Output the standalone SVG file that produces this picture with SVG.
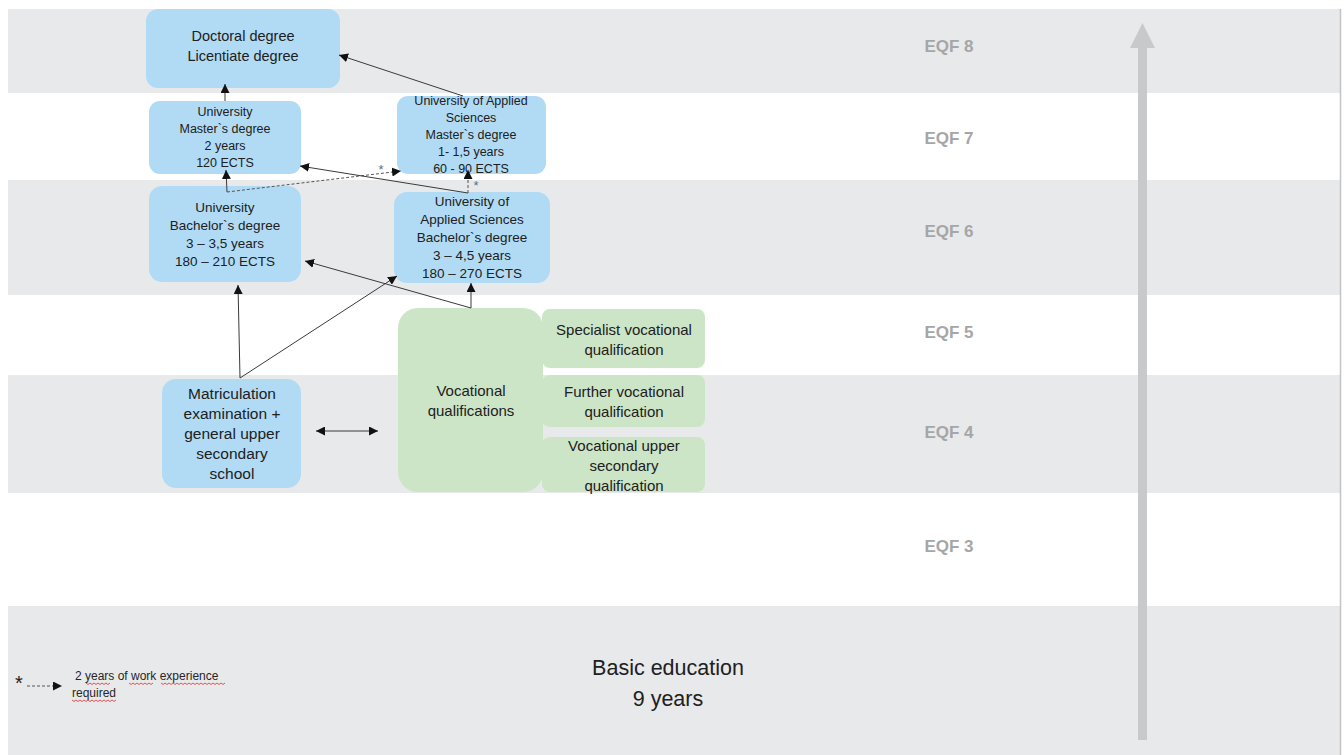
<svg xmlns="http://www.w3.org/2000/svg" width="1344" height="755" viewBox="0 0 1344 755">
<defs>
<marker id="ah" viewBox="0 0 10 10" refX="10" refY="5" markerWidth="9" markerHeight="9" markerUnits="userSpaceOnUse" orient="auto-start-reverse">
<path d="M0,0 L10,5 L0,10 z" fill="#111"/>
</marker>
<style>
.band{fill:#e8e9eb}
.blue{fill:#b1dbf5}
.green{fill:#cde5c7}
.t{font-family:"Liberation Sans",Arial,sans-serif;fill:#202020;text-anchor:middle}
.eqf{font-family:"Liberation Sans",Arial,sans-serif;fill:#a6a6a6;font-weight:bold;font-size:17px;text-anchor:middle}
.ln{stroke:#3a3a3a;stroke-width:1;fill:none}
.dl{stroke:#555;stroke-width:1;fill:none;stroke-dasharray:3 2}
.ast{font-family:"Liberation Sans",Arial,sans-serif;fill:#5a6f8a;font-size:13px;text-anchor:middle}
.sq{stroke:#e03030;stroke-width:0.8;fill:none}
</style>
</defs>
<rect width="1344" height="755" fill="#fff"/>
<g id="bands">
<rect class="band" x="8" y="9" width="1332" height="84"/>
<rect class="band" x="8" y="180" width="1332" height="115"/>
<rect class="band" x="8" y="375" width="1332" height="118"/>
<rect class="band" x="8" y="606" width="1332" height="149"/>
<line x1="1340.5" y1="9" x2="1340.5" y2="755" stroke="#c4c4c4" stroke-width="1.5"/>
</g>
<g id="eqf-labels">
<text class="eqf" x="949" y="52">EQF 8</text>
<text class="eqf" x="949" y="144">EQF 7</text>
<text class="eqf" x="949" y="237">EQF 6</text>
<text class="eqf" x="949" y="338">EQF 5</text>
<text class="eqf" x="949" y="438">EQF 4</text>
<text class="eqf" x="949" y="552">EQF 3</text>
</g>
<g id="level-arrow">
<rect x="1138" y="47" width="9" height="693" fill="#c8c9cb"/>
<polygon points="1142.5,23 1155,48 1130,48" fill="#c8c9cb"/>
</g>
<g id="basic-education">
<text class="t" x="668" y="675" font-size="21.5">Basic education</text>
<text class="t" x="668" y="706" font-size="21.5">9 years</text>
</g>
<g id="doctoral">
<rect class="blue" x="146" y="9" width="194" height="79" rx="12"/>
<text class="t" x="243" y="41" font-size="14.5">Doctoral degree</text>
<text class="t" x="243" y="61" font-size="14.5">Licentiate degree</text>
</g>
<g id="uni-master">
<rect class="blue" x="149" y="101" width="152" height="73" rx="11"/>
<text class="t" x="225" y="116" font-size="12.5">University</text>
<text class="t" x="225" y="133" font-size="12.5">Master`s degree</text>
<text class="t" x="225" y="150" font-size="12.5">2 years</text>
<text class="t" x="225" y="167" font-size="12.5">120 ECTS</text>
</g>
<g id="uas-master">
<rect class="blue" x="397" y="96" width="149" height="78" rx="11"/>
<text class="t" x="471" y="105" font-size="12.5">University of Applied</text>
<text class="t" x="471" y="122" font-size="12.5">Sciences</text>
<text class="t" x="471" y="139" font-size="12.5">Master`s degree</text>
<text class="t" x="471" y="156" font-size="12.5">1- 1,5 years</text>
<text class="t" x="471" y="173" font-size="12.5">60 - 90 ECTS</text>
</g>
<g id="uni-bachelor">
<rect class="blue" x="149" y="186" width="152" height="96" rx="13"/>
<text class="t" x="225" y="212" font-size="13.5">University</text>
<text class="t" x="225" y="230" font-size="13.5">Bachelor`s degree</text>
<text class="t" x="225" y="248" font-size="13.5">3 – 3,5 years</text>
<text class="t" x="225" y="266" font-size="13.5">180 – 210 ECTS</text>
</g>
<g id="uas-bachelor">
<rect class="blue" x="394" y="192" width="156" height="91" rx="13"/>
<text class="t" x="472" y="206" font-size="13.5">University of</text>
<text class="t" x="472" y="224" font-size="13.5">Applied Sciences</text>
<text class="t" x="472" y="242" font-size="13.5">Bachelor`s degree</text>
<text class="t" x="472" y="260" font-size="13.5">3 – 4,5 years</text>
<text class="t" x="472" y="278" font-size="13.5">180 – 270 ECTS</text>
</g>
<g id="matriculation">
<rect class="blue" x="162" y="379" width="139" height="109" rx="14"/>
<text class="t" x="232" y="399" font-size="15.5">Matriculation</text>
<text class="t" x="232" y="419" font-size="15.5">examination +</text>
<text class="t" x="232" y="439" font-size="15.5">general upper</text>
<text class="t" x="232" y="459" font-size="15.5">secondary</text>
<text class="t" x="232" y="479" font-size="15.5">school</text>
</g>
<g id="vocational">
<rect class="green" x="398" y="308" width="145" height="184" rx="20"/>
<text class="t" x="471" y="396" font-size="15">Vocational</text>
<text class="t" x="471" y="416" font-size="15">qualifications</text>
</g>
<g id="specialist">
<rect class="green" x="542" y="309" width="163" height="59" rx="8"/>
<text class="t" x="624" y="335" font-size="15">Specialist vocational</text>
<text class="t" x="624" y="355" font-size="15">qualification</text>
</g>
<g id="further">
<rect class="green" x="542" y="375" width="163" height="52" rx="8"/>
<text class="t" x="624" y="397" font-size="15">Further vocational</text>
<text class="t" x="624" y="417" font-size="15">qualification</text>
</g>
<g id="vocational-upper">
<rect class="green" x="542" y="437" width="163" height="55" rx="8"/>
<text class="t" x="624" y="451" font-size="15">Vocational upper</text>
<text class="t" x="624" y="471" font-size="15">secondary</text>
<text class="t" x="624" y="491" font-size="15">qualification</text>
</g>
<g id="connectors">
<line class="ln" x1="463" y1="96" x2="339" y2="55" marker-end="url(#ah)"/>
<line class="ln" x1="225" y1="101" x2="225" y2="84" marker-end="url(#ah)"/>
<line class="ln" x1="227" y1="192" x2="226" y2="170" marker-end="url(#ah)"/>
<line class="dl" x1="227" y1="192" x2="401" y2="171" marker-end="url(#ah)"/>
<text class="ast" x="381" y="174">*</text>
<line class="ln" x1="468" y1="193" x2="300" y2="166" marker-end="url(#ah)"/>
<line class="dl" x1="468" y1="193" x2="468" y2="170" marker-end="url(#ah)"/>
<text class="ast" x="476" y="190">*</text>
<line class="ln" x1="471" y1="308" x2="471" y2="283" marker-end="url(#ah)"/>
<line class="ln" x1="471" y1="308" x2="305" y2="261" marker-end="url(#ah)"/>
<line class="ln" x1="240" y1="378" x2="238" y2="285" marker-end="url(#ah)"/>
<line class="ln" x1="240" y1="378" x2="397" y2="276" marker-end="url(#ah)"/>
<line class="ln" x1="316" y1="431" x2="378" y2="431" marker-start="url(#ah)" marker-end="url(#ah)"/>
</g>
<g id="legend">
<text x="19" y="690" font-family="'Liberation Sans',Arial,sans-serif" font-size="20" fill="#202020" text-anchor="middle">*</text>
<line class="dl" x1="27" y1="686" x2="62" y2="686" marker-end="url(#ah)"/>
<text x="75" y="680" font-family="'Liberation Sans',Arial,sans-serif" font-size="12" fill="#262626">2 years of work experience</text>
<text x="72" y="697" font-family="'Liberation Sans',Arial,sans-serif" font-size="12" fill="#262626">required</text>
<path class="sq" d="M86,683 l2,1.5 l2,-1.5 l2,1.5 l2,-1.5 l2,1.5 l2,-1.5 l2,1.5 l2,-1.5 l2,1.5 l2,-1.5 l2,1.5 l2,-1.5 M129,683 l2,1.5 l2,-1.5 l2,1.5 l2,-1.5 l2,1.5 l2,-1.5 l2,1.5 l2,-1.5 l2,1.5 l2,-1.5 l2,1.5 l2,-1.5 M161,683 l2,1.5 l2,-1.5 l2,1.5 l2,-1.5 l2,1.5 l2,-1.5 l2,1.5 l2,-1.5 l2,1.5 l2,-1.5 l2,1.5 l2,-1.5 l2,1.5 l2,-1.5 l2,1.5 l2,-1.5 l2,1.5 l2,-1.5 l2,1.5 l2,-1.5 l2,1.5 l2,-1.5 l2,1.5 l2,-1.5 l2,1.5 l2,-1.5 l2,1.5 l2,-1.5 l2,1.5 l2,-1.5 l2,1.5 l2,-1.5 M72,700 l2,1.5 l2,-1.5 l2,1.5 l2,-1.5 l2,1.5 l2,-1.5 l2,1.5 l2,-1.5 l2,1.5 l2,-1.5 l2,1.5 l2,-1.5 l2,1.5 l2,-1.5 l2,1.5 l2,-1.5 l2,1.5 l2,-1.5 l2,1.5 l2,-1.5 l2,1.5 l2,-1.5"/>
</g>
</svg>
